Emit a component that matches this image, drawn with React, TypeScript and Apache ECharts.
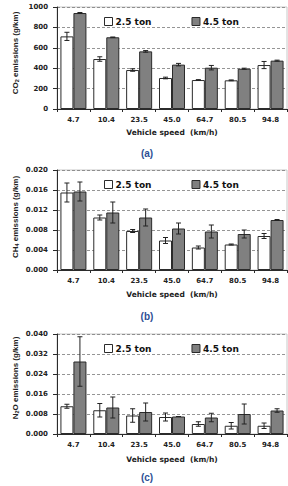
import React, { useEffect, useRef } from "react";
import * as echarts from "echarts";

// Vehicle speed bins (km/h)
const categories = ["4.7", "10.4", "23.5", "45.0", "64.7", "80.5", "94.8"];
const seriesNames = ["2.5 ton", "4.5 ton"];

// CO2 emissions (g/km)
const co2Light = [712, 490, 382, 304, 284, 281, 431];
const co2LightErr = [40, 22, 12, 8, 4, 4, 35];
const co2Heavy = [941, 703, 565, 435, 405, 395, 474];
const co2HeavyErr = [5, 3, 8, 12, 22, 5, 5];

// CH4 emissions (g/km)
const ch4Light = [0.0155, 0.0105, 0.0078, 0.0059, 0.0045, 0.0051, 0.0068];
const ch4LightErr = [0.0019, 0.0005, 0.0003, 0.0006, 0.0003, 0.0001, 0.0005];
const ch4Heavy = [0.0157, 0.0115, 0.0105, 0.0083, 0.0077, 0.0072, 0.01];
const ch4HeavyErr = [0.0019, 0.0021, 0.0017, 0.0011, 0.0013, 0.0008, 0.0001];

// N2O emissions (g/km)
const n2oLight = [0.0111, 0.0095, 0.0074, 0.0068, 0.004, 0.0033, 0.0033];
const n2oLightErr = [0.0008, 0.0027, 0.0027, 0.0016, 0.0009, 0.0013, 0.0011];
const n2oHeavy = [0.029, 0.0106, 0.0088, 0.007, 0.0066, 0.008, 0.0094];
const n2oHeavyErr = [0.0099, 0.0042, 0.0036, 0, 0.0017, 0.004, 0.0007];

// Y axis ranges per panel
const yMax = [1000, 0.02, 0.04];
const yStep = [200, 0.004, 0.008];
const yDecimals = [0, 3, 3];
// Axis titles written as rich text so the subscripts render reliably
const yTitles = [
  "{n|CO}{s|2}{n| emissions (g/km)}",
  "{n|CH}{s|4}{n| emissions (g/km)}",
  "{n|N}{s|2}{n|O emissions (g/km)}",
];
const panelTags = ["(a)", "(b)", "(c)"];

const W = 288;
const H = 486;
const BAR_W = 13;
const DARK = "#2b2b2b";
const TICK_FONT = "DejaVu Sans";

const panels = [
  { light: co2Light, lightErr: co2LightErr, heavy: co2Heavy, heavyErr: co2HeavyErr, top: 7, height: 102, titleY: 53, xTitleY: 132, tagY: 153 },
  { light: ch4Light, lightErr: ch4LightErr, heavy: ch4Heavy, heavyErr: ch4HeavyErr, top: 170, height: 100, titleY: 217, xTitleY: 294, tagY: 316 },
  { light: n2oLight, lightErr: n2oLightErr, heavy: n2oHeavy, heavyErr: n2oHeavyErr, top: 334, height: 100, titleY: 378, xTitleY: 459, tagY: 477 },
];

function errorSeries(idx: number, values: number[], errs: number[], offset: number) {
  return {
    type: "custom",
    xAxisIndex: idx,
    yAxisIndex: idx,
    z: 5,
    silent: true,
    encode: { x: 0, y: [1, 2] },
    data: values.map((v, i) => [i, v - errs[i], v + errs[i]]),
    renderItem: (_params: any, api: any) => {
      const i = api.value(0);
      const hi = api.coord([i, api.value(2)]);
      const lo = api.coord([i, api.value(1)]);
      const x = hi[0] + offset;
      const cap = 2.5;
      const st = { stroke: "#222", lineWidth: 1 };
      return {
        type: "group",
        children: [
          { type: "line", shape: { x1: x, y1: hi[1], x2: x, y2: lo[1] }, style: st },
          { type: "line", shape: { x1: x - cap, y1: hi[1], x2: x + cap, y2: hi[1] }, style: st },
          { type: "line", shape: { x1: x - cap, y1: lo[1], x2: x + cap, y2: lo[1] }, style: st },
        ],
      };
    },
  };
}

export default function App() {
  const ref = useRef<HTMLDivElement>(null);

  useEffect(() => {
    if (!ref.current) return;
    const chart = echarts.init(ref.current, null, { renderer: "svg" });

    const grids = panels.map((p) => ({
      left: 57,
      right: 1,
      top: p.top,
      height: p.height,
      show: true,
      borderColor: "#c8c8c8",
      borderWidth: 1,
      backgroundColor: "transparent",
    }));

    const xAxes = panels.map((_p, i) => ({
      type: "category",
      gridIndex: i,
      data: categories,
      axisLine: { lineStyle: { color: DARK, width: 1 } },
      axisTick: { show: true, length: 3, lineStyle: { color: DARK } },
      axisLabel: { fontFamily: TICK_FONT, fontWeight: "bold", fontSize: 7, color: "#222", margin: 7 },
    }));

    const yAxes = panels.map((_p, i) => ({
      type: "value",
      gridIndex: i,
      min: 0,
      max: yMax[i],
      interval: yStep[i],
      axisLine: { show: true, lineStyle: { color: DARK, width: 1 } },
      axisTick: { show: true, length: 4, lineStyle: { color: DARK } },
      axisLabel: {
        fontFamily: TICK_FONT,
        fontWeight: "bold",
        fontSize: 7,
        color: "#222",
        margin: 9,
        formatter: (v: number) => v.toFixed(yDecimals[i]),
      },
      splitLine: { show: true, lineStyle: { color: "#7a7a7a", type: [3, 2], width: 0.8 } },
    }));

    const series: any[] = [];
    panels.forEach((p, i) => {
      series.push({
        name: seriesNames[0],
        type: "bar",
        xAxisIndex: i,
        yAxisIndex: i,
        barWidth: BAR_W,
        barGap: "0%",
        data: p.light,
        itemStyle: { color: "#ffffff", borderColor: DARK, borderWidth: 1 },
      });
      series.push({
        name: seriesNames[1],
        type: "bar",
        xAxisIndex: i,
        yAxisIndex: i,
        barWidth: BAR_W,
        barGap: "0%",
        data: p.heavy,
        itemStyle: { color: "#808080", borderColor: DARK, borderWidth: 1 },
      });
      series.push(errorSeries(i, p.light, p.lightErr, -BAR_W / 2));
      series.push(errorSeries(i, p.heavy, p.heavyErr, BAR_W / 2));
    });

    const legends = panels.map((p) => ({
      left: 99,
      top: p.top + 5,
      orient: "horizontal",
      itemGap: 40,
      itemWidth: 8,
      itemHeight: 8,
      icon: "rect",
      selectedMode: false,
      textStyle: { fontFamily: TICK_FONT, fontWeight: "bold", fontSize: 9, color: "#111", padding: [0, 0, 0, -2] },
      data: [
        { name: seriesNames[0], itemStyle: { color: "#ffffff", borderColor: DARK, borderWidth: 1 } },
        { name: seriesNames[1], itemStyle: { color: "#808080", borderColor: DARK, borderWidth: 1 } },
      ],
    }));

    const graphics: any[] = [];
    panels.forEach((p, i) => {
      graphics.push({
        type: "text",
        x: 15,
        y: p.titleY,
        rotation: Math.PI / 2,
        style: {
          text: yTitles[i],
          align: "center",
          verticalAlign: "middle",
          rich: {
            n: { fontFamily: "Liberation Sans", fontWeight: "bold", fontSize: 8, fill: "#222" },
            s: { fontFamily: "Liberation Sans", fontWeight: "bold", fontSize: 5.5, fill: "#222", padding: [4, 0, 0, 0] },
          },
        },
      });
      graphics.push({
        type: "text",
        x: 172,
        y: p.xTitleY,
        style: {
          text: "Vehicle speed  (km/h)",
          fontFamily: TICK_FONT,
          fontWeight: "bold",
          fontSize: 7.5,
          fill: "#222",
          align: "center",
          verticalAlign: "middle",
        },
      });
      graphics.push({
        type: "text",
        x: 147,
        y: p.tagY,
        style: {
          text: panelTags[i],
          fontFamily: "Liberation Sans",
          fontWeight: "bold",
          fontSize: 10,
          fill: "#2e4f95",
          align: "center",
          verticalAlign: "middle",
        },
      });
    });

    chart.setOption({
      animation: false,
      backgroundColor: "#ffffff",
      grid: grids,
      xAxis: xAxes,
      yAxis: yAxes,
      legend: legends,
      series,
      graphic: graphics,
    });

    return () => chart.dispose();
  }, []);

  return (
    <div
      ref={ref}
      style={{ position: "absolute", left: 0, top: 0, width: W, height: H }}
    />
  );
}
